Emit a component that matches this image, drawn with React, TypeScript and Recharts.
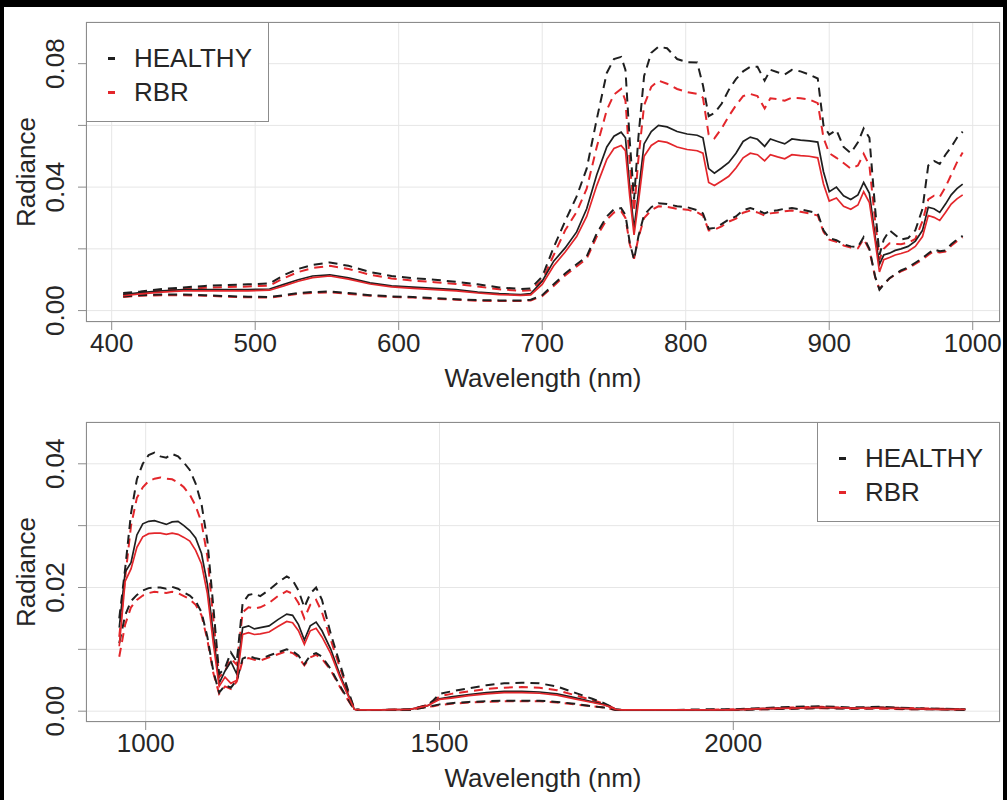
import { LineChart, Line, XAxis, YAxis, CartesianGrid, Legend } from "recharts";

const FONT = '"Liberation Sans", Arial, sans-serif';
const TEXT = "#262626";
const BLACK = "#1f1f1f";
const RED = "#e3262b";
const FRAME = "#8c8c8c";

// layout of one panel
const W = 1007;
const H = 400;
const PLOT_L = 86;
const PLOT_T = 22;
const PLOT_W = 914;
const PLOT_H = 300;
const Y_AXIS_W = 60;
const X_AXIS_H = 30;

// ---- top panel (VNIR) ----
const WL_TOP = [408, 420, 435, 450, 465, 480, 495, 510,
  520, 530, 540, 552, 565, 580, 595, 610,
  625, 640, 655, 670, 685, 692, 700, 708,
  716, 724, 731, 738, 745, 750, 755, 758,
  761, 764, 767, 771, 776, 781, 787, 794,
  801, 808, 812, 816, 820, 825, 830, 835,
  840, 845, 850, 855, 859, 864, 869, 874,
  880, 886, 892, 896, 900, 905, 910, 915,
  920, 924, 928, 932, 935, 938, 942, 946,
  950, 955, 960, 965, 969, 973, 977, 981,
  985, 989, 993];

const HEALTHY_MEAN_TOP = [0.0052, 0.0058, 0.0064, 0.0068, 0.0068, 0.0068, 0.0068, 0.0070,
  0.0085, 0.0100, 0.0112, 0.0116, 0.0106, 0.0090, 0.0080, 0.0076,
  0.0072, 0.0068, 0.0060, 0.0055, 0.0052, 0.0055, 0.0095, 0.0160,
  0.0203, 0.0255, 0.0330, 0.0440, 0.0530, 0.0565, 0.0578, 0.0560,
  0.0400, 0.0265, 0.0380, 0.0540, 0.0580, 0.0600, 0.0595, 0.0580,
  0.0572, 0.0568, 0.0560, 0.0460, 0.0445, 0.0462, 0.0480, 0.0510,
  0.0548, 0.0562, 0.0555, 0.0532, 0.0556, 0.0548, 0.0540, 0.0556,
  0.0552, 0.0550, 0.0546, 0.0450, 0.0385, 0.0400, 0.0372, 0.0360,
  0.0375, 0.0415, 0.0380, 0.0240, 0.0150, 0.0180, 0.0186, 0.0195,
  0.0200, 0.0208, 0.0225, 0.0260, 0.0335, 0.0330, 0.0318, 0.0345,
  0.0375, 0.0395, 0.0410];

const HEALTHY_UP_TOP = [0.0057, 0.0062, 0.0070, 0.0075, 0.0080, 0.0083, 0.0085, 0.0088,
  0.0115, 0.0135, 0.0148, 0.0156, 0.0145, 0.0125, 0.0112, 0.0105,
  0.0100, 0.0093, 0.0085, 0.0075, 0.0070, 0.0072, 0.0110, 0.0205,
  0.0290, 0.0370, 0.0460, 0.0620, 0.0770, 0.0815, 0.0822, 0.0780,
  0.0550, 0.0360, 0.0560, 0.0760, 0.0835, 0.0855, 0.0850, 0.0815,
  0.0805, 0.0804, 0.0730, 0.0630, 0.0640, 0.0670, 0.0715, 0.0750,
  0.0775, 0.0790, 0.0790, 0.0745, 0.0780, 0.0772, 0.0765, 0.0780,
  0.0775, 0.0765, 0.0752, 0.0600, 0.0570, 0.0585, 0.0530, 0.0510,
  0.0545, 0.0590, 0.0560, 0.0330, 0.0180, 0.0230, 0.0260, 0.0245,
  0.0230, 0.0235, 0.0260, 0.0330, 0.0470, 0.0485, 0.0475, 0.0505,
  0.0530, 0.0560, 0.0580];

const HEALTHY_LO_TOP = [0.0046, 0.0050, 0.0052, 0.0052, 0.0050, 0.0047, 0.0045, 0.0044,
  0.0050, 0.0057, 0.0060, 0.0062, 0.0057, 0.0050, 0.0046, 0.0044,
  0.0040, 0.0037, 0.0034, 0.0033, 0.0033, 0.0035, 0.0050, 0.0085,
  0.0120, 0.0150, 0.0175, 0.0250, 0.0305, 0.0328, 0.0332, 0.0310,
  0.0220, 0.0165, 0.0240, 0.0310, 0.0335, 0.0348, 0.0345, 0.0338,
  0.0335, 0.0325, 0.0315, 0.0265, 0.0268, 0.0280, 0.0295, 0.0305,
  0.0325, 0.0332, 0.0325, 0.0315, 0.0322, 0.0325, 0.0330, 0.0332,
  0.0328, 0.0322, 0.0315, 0.0260, 0.0235, 0.0228, 0.0215, 0.0208,
  0.0206, 0.0238, 0.0200, 0.0110, 0.0068, 0.0085, 0.0105, 0.0118,
  0.0130, 0.0140, 0.0155, 0.0170, 0.0185, 0.0198, 0.0192, 0.0195,
  0.0215, 0.0230, 0.0242];

const RBR_MEAN_TOP = [0.0048, 0.0054, 0.0060, 0.0064, 0.0064, 0.0064, 0.0064, 0.0066,
  0.0080, 0.0095, 0.0107, 0.0112, 0.0102, 0.0086, 0.0077, 0.0072,
  0.0068, 0.0064, 0.0057, 0.0052, 0.0049, 0.0051, 0.0085, 0.0145,
  0.0190, 0.0240, 0.0305, 0.0405, 0.0490, 0.0525, 0.0535, 0.0518,
  0.0370, 0.0245, 0.0350, 0.0500, 0.0535, 0.0550, 0.0545, 0.0530,
  0.0522, 0.0518, 0.0510, 0.0415, 0.0405, 0.0420, 0.0435, 0.0462,
  0.0495, 0.0510, 0.0505, 0.0485, 0.0505, 0.0498, 0.0492, 0.0505,
  0.0502, 0.0500, 0.0495, 0.0410, 0.0355, 0.0365, 0.0338, 0.0328,
  0.0342, 0.0385, 0.0350, 0.0225, 0.0125, 0.0165, 0.0172, 0.0180,
  0.0185, 0.0192, 0.0208, 0.0240, 0.0308, 0.0302, 0.0292, 0.0318,
  0.0345, 0.0362, 0.0375];

const RBR_UP_TOP = [0.0052, 0.0058, 0.0066, 0.0070, 0.0074, 0.0076, 0.0078, 0.0081,
  0.0105, 0.0125, 0.0138, 0.0145, 0.0135, 0.0116, 0.0104, 0.0097,
  0.0092, 0.0086, 0.0078, 0.0069, 0.0064, 0.0066, 0.0098, 0.0180,
  0.0260, 0.0320, 0.0395, 0.0530, 0.0650, 0.0700, 0.0718, 0.0680,
  0.0480, 0.0320, 0.0490, 0.0665, 0.0725, 0.0745, 0.0735, 0.0718,
  0.0708, 0.0702, 0.0690, 0.0570, 0.0558, 0.0590, 0.0630, 0.0665,
  0.0695, 0.0702, 0.0695, 0.0655, 0.0688, 0.0685, 0.0680, 0.0690,
  0.0688, 0.0684, 0.0672, 0.0560, 0.0510, 0.0495, 0.0478, 0.0460,
  0.0470, 0.0508, 0.0470, 0.0290, 0.0165, 0.0200, 0.0218, 0.0216,
  0.0215, 0.0220, 0.0232, 0.0290, 0.0360, 0.0372, 0.0368, 0.0400,
  0.0440, 0.0480, 0.0512];

const RBR_LO_TOP = [0.0044, 0.0048, 0.0050, 0.0050, 0.0048, 0.0045, 0.0043, 0.0042,
  0.0048, 0.0054, 0.0057, 0.0059, 0.0054, 0.0048, 0.0044, 0.0042,
  0.0038, 0.0035, 0.0032, 0.0031, 0.0031, 0.0033, 0.0047, 0.0080,
  0.0114, 0.0143, 0.0168, 0.0240, 0.0295, 0.0318, 0.0322, 0.0300,
  0.0215, 0.0168, 0.0235, 0.0300, 0.0325, 0.0338, 0.0336, 0.0330,
  0.0327, 0.0318, 0.0308, 0.0260, 0.0262, 0.0273, 0.0288, 0.0298,
  0.0317, 0.0324, 0.0318, 0.0308, 0.0315, 0.0318, 0.0322, 0.0324,
  0.0320, 0.0315, 0.0308, 0.0255, 0.0230, 0.0223, 0.0211, 0.0204,
  0.0202, 0.0232, 0.0196, 0.0108, 0.0070, 0.0086, 0.0104, 0.0116,
  0.0127, 0.0137, 0.0151, 0.0166, 0.0180, 0.0193, 0.0188, 0.0191,
  0.0210, 0.0225, 0.0237];

// ---- bottom panel (SWIR) ----
const WL_BOT = [955, 965, 975, 985, 995, 1005, 1015, 1025,
  1035, 1045, 1055, 1065, 1075, 1085, 1095, 1105,
  1115, 1125, 1135, 1145, 1155, 1165, 1175, 1185,
  1195, 1210, 1225, 1240, 1250, 1260, 1270, 1280,
  1290, 1300, 1315, 1330, 1345, 1355, 1365, 1400,
  1450, 1480, 1490, 1500, 1520, 1550, 1580, 1610,
  1640, 1670, 1700, 1730, 1760, 1780, 1790, 1800,
  1810, 1850, 1900, 1950, 2000, 2050, 2100, 2150,
  2200, 2250, 2300, 2350, 2395];

const HEALTHY_UP_BOT = [0.0150, 0.0230, 0.0320, 0.0375, 0.0400, 0.0414, 0.0418, 0.0412,
  0.0410, 0.0416, 0.0412, 0.0402, 0.0390, 0.0368, 0.0335, 0.0275,
  0.0170, 0.0060, 0.0070, 0.0095, 0.0080, 0.0175, 0.0188, 0.0190,
  0.0186, 0.0196, 0.0208, 0.0218, 0.0212, 0.0195, 0.0168, 0.0190,
  0.0200, 0.0180, 0.0125, 0.0078, 0.0032, 0.0004, 0.0002, 0.0002,
  0.0003, 0.0010, 0.0018, 0.0028, 0.0032, 0.0037, 0.0042, 0.0045,
  0.0046, 0.0045, 0.0040, 0.0030, 0.0020, 0.0013, 0.0008, 0.0003,
  0.0002, 0.0002, 0.0002, 0.0003, 0.0003, 0.0005, 0.0007, 0.0008,
  0.0006, 0.0007, 0.0005, 0.0004, 0.0003];

const HEALTHY_MEAN_BOT = [0.0135, 0.0225, 0.0240, 0.0285, 0.0303, 0.0307, 0.0308, 0.0305,
  0.0302, 0.0306, 0.0307, 0.0300, 0.0292, 0.0280, 0.0255, 0.0205,
  0.0125, 0.0045, 0.0065, 0.0080, 0.0060, 0.0135, 0.0138, 0.0133,
  0.0135, 0.0138, 0.0148, 0.0157, 0.0155, 0.0140, 0.0115, 0.0138,
  0.0144, 0.0130, 0.0100, 0.0060, 0.0026, 0.0003, 0.0002, 0.0002,
  0.0003, 0.0009, 0.0015, 0.0020, 0.0023, 0.0027, 0.0030, 0.0032,
  0.0032, 0.0031, 0.0028, 0.0022, 0.0015, 0.0011, 0.0007, 0.0003,
  0.0002, 0.0002, 0.0002, 0.0002, 0.0002, 0.0004, 0.0005, 0.0006,
  0.0005, 0.0006, 0.0004, 0.0003, 0.0003];

const HEALTHY_LO_BOT = [0.0110, 0.0155, 0.0178, 0.0188, 0.0195, 0.0199, 0.0200, 0.0200,
  0.0198, 0.0201, 0.0198, 0.0192, 0.0187, 0.0178, 0.0160, 0.0120,
  0.0065, 0.0030, 0.0042, 0.0038, 0.0050, 0.0085, 0.0089, 0.0086,
  0.0084, 0.0090, 0.0095, 0.0100, 0.0097, 0.0090, 0.0076, 0.0090,
  0.0094, 0.0088, 0.0068, 0.0042, 0.0018, 0.0002, 0.0002, 0.0002,
  0.0002, 0.0007, 0.0009, 0.0011, 0.0013, 0.0015, 0.0016, 0.0017,
  0.0017, 0.0017, 0.0015, 0.0012, 0.0008, 0.0006, 0.0004, 0.0002,
  0.0002, 0.0002, 0.0002, 0.0002, 0.0002, 0.0003, 0.0004, 0.0005,
  0.0004, 0.0005, 0.0003, 0.0003, 0.0002];

const RBR_UP_BOT = [0.0120, 0.0215, 0.0300, 0.0345, 0.0362, 0.0372, 0.0376, 0.0378,
  0.0376, 0.0375, 0.0370, 0.0362, 0.0350, 0.0332, 0.0305, 0.0250,
  0.0150, 0.0055, 0.0065, 0.0085, 0.0075, 0.0160, 0.0168, 0.0166,
  0.0168, 0.0175, 0.0186, 0.0194, 0.0190, 0.0175, 0.0150, 0.0172,
  0.0180, 0.0160, 0.0115, 0.0072, 0.0030, 0.0004, 0.0002, 0.0002,
  0.0003, 0.0010, 0.0016, 0.0024, 0.0028, 0.0032, 0.0036, 0.0038,
  0.0039, 0.0038, 0.0034, 0.0026, 0.0018, 0.0012, 0.0008, 0.0003,
  0.0002, 0.0002, 0.0002, 0.0002, 0.0003, 0.0004, 0.0006, 0.0007,
  0.0005, 0.0006, 0.0005, 0.0004, 0.0003];

const RBR_MEAN_BOT = [0.0105, 0.0210, 0.0230, 0.0265, 0.0282, 0.0287, 0.0288, 0.0288,
  0.0286, 0.0288, 0.0286, 0.0281, 0.0275, 0.0260, 0.0238, 0.0190,
  0.0110, 0.0040, 0.0055, 0.0045, 0.0050, 0.0124, 0.0127, 0.0124,
  0.0125, 0.0128, 0.0137, 0.0145, 0.0143, 0.0130, 0.0108, 0.0130,
  0.0134, 0.0120, 0.0093, 0.0056, 0.0024, 0.0003, 0.0002, 0.0002,
  0.0003, 0.0009, 0.0014, 0.0019, 0.0021, 0.0025, 0.0028, 0.0030,
  0.0030, 0.0029, 0.0026, 0.0020, 0.0014, 0.0010, 0.0007, 0.0003,
  0.0002, 0.0002, 0.0002, 0.0002, 0.0002, 0.0004, 0.0005, 0.0006,
  0.0005, 0.0005, 0.0004, 0.0003, 0.0003];

const RBR_LO_BOT = [0.0088, 0.0140, 0.0168, 0.0180, 0.0187, 0.0191, 0.0193, 0.0192,
  0.0191, 0.0193, 0.0191, 0.0186, 0.0181, 0.0172, 0.0155, 0.0115,
  0.0062, 0.0028, 0.0040, 0.0036, 0.0048, 0.0082, 0.0086, 0.0083,
  0.0082, 0.0087, 0.0092, 0.0097, 0.0094, 0.0087, 0.0074, 0.0087,
  0.0091, 0.0085, 0.0066, 0.0040, 0.0017, 0.0002, 0.0002, 0.0002,
  0.0002, 0.0007, 0.0008, 0.0010, 0.0012, 0.0014, 0.0015, 0.0016,
  0.0016, 0.0016, 0.0014, 0.0011, 0.0008, 0.0006, 0.0004, 0.0002,
  0.0002, 0.0002, 0.0002, 0.0002, 0.0002, 0.0003, 0.0004, 0.0005,
  0.0004, 0.0004, 0.0003, 0.0003, 0.0002];

const X_TICKS_TOP = [400, 500, 600, 700, 800, 900, 1000];
const X_TICKS_BOT = [1000, 1500, 2000];
const Y_TICKS_TOP = [0, 0.02, 0.04, 0.06, 0.08];
const Y_LABELS_TOP = [0, 0.04, 0.08];
const Y_TICKS_BOT = [0, 0.01, 0.02, 0.03, 0.04];
const Y_LABELS_BOT = [0, 0.02, 0.04];

function YTick(props: any) {
  const { x, y, payload, labels } = props;
  const v = payload.value;
  if (!labels.some((l: number) => Math.abs(l - v) < 1e-9)) return <g />;
  const bx = x - 12;
  return (
    <text x={bx} y={y} transform={`rotate(-90 ${bx} ${y})`} textAnchor="middle"
      fill={TEXT} fontSize={26} fontFamily={FONT}>
      {v.toFixed(2)}
    </text>
  );
}

function LegendBox(props: any) {
  // only the two mean curves carry a legend entry
  const items = (props.payload || []).filter((p: any) => p.type !== "none");
  return (
    <div style={{ width: 183, height: 100, border: `1px solid ${FRAME}`, boxSizing: "border-box",
      background: "#fff", position: "relative", fontFamily: FONT, fontSize: 26, color: TEXT }}>
      {items.map((p: any, i: number) => (
        <div key={p.value} style={{ position: "absolute", left: 0, top: 18 + i * 34, height: 34,
          display: "flex", alignItems: "center", whiteSpace: "nowrap" }}>
          <span style={{ display: "inline-block", width: 7, height: 3, background: p.color, marginLeft: 21 }} />
          <span style={{ marginLeft: 19, lineHeight: "34px" }}>{p.value}</span>
        </div>
      ))}
    </div>
  );
}

type PanelProps = {
  wl: number[];
  hm: number[]; hu: number[]; hl: number[];
  rm: number[]; ru: number[]; rl: number[];
  xDomain: [number, number];
  xTicks: number[];
  yDomain: [number, number];
  yTicks: number[];
  yLabels: number[];
  legendLeft: number;
};

function Panel({ wl, hm, hu, hl, rm, ru, rl, xDomain, xTicks, yDomain, yTicks, yLabels, legendLeft }: PanelProps) {
  const rows = wl.map((w, i) => ({ wl: w, hm: hm[i], hu: hu[i], hl: hl[i], rm: rm[i], ru: ru[i], rl: rl[i] }));
  const cy = PLOT_T + PLOT_H / 2;
  return (
    <div style={{ position: "relative", width: W, height: H }}>
      <LineChart width={W} height={H} data={rows}
        margin={{ top: PLOT_T, left: PLOT_L - Y_AXIS_W, right: W - PLOT_L - PLOT_W, bottom: H - PLOT_T - PLOT_H - X_AXIS_H }}>
        <CartesianGrid stroke="#e6e6e6" />
        <XAxis dataKey="wl" type="number" domain={xDomain} ticks={xTicks} allowDataOverflow
          axisLine={false} tickLine={{ stroke: FRAME }} tickSize={8} tickMargin={4} height={X_AXIS_H}
          tick={{ fill: TEXT, fontSize: 26, fontFamily: FONT }}
          label={{
            content: () => (
              <text x={PLOT_L + PLOT_W / 2} y={PLOT_T + PLOT_H + 65} textAnchor="middle"
                fill={TEXT} fontSize={26} fontFamily={FONT}>Wavelength (nm)</text>
            ),
          }} />
        <YAxis type="number" domain={yDomain} ticks={yTicks} allowDataOverflow
          axisLine={false} tickLine={{ stroke: FRAME }} tickSize={8} tickMargin={2} width={Y_AXIS_W}
          tick={(p: any) => <YTick {...p} labels={yLabels} />}
          label={{
            content: () => (
              <text x={35} y={cy} transform={`rotate(-90 35 ${cy})`} textAnchor="middle"
                fill={TEXT} fontSize={26} fontFamily={FONT}>Radiance</text>
            ),
          }} />
        <Line dataKey="ru" stroke={RED} strokeWidth={2} strokeDasharray="9 6" dot={false} legendType="none" isAnimationActive={false} />
        <Line dataKey="rl" stroke={RED} strokeWidth={2} strokeDasharray="9 6" dot={false} legendType="none" isAnimationActive={false} />
        <Line dataKey="hu" stroke={BLACK} strokeWidth={2} strokeDasharray="9 6" dot={false} legendType="none" isAnimationActive={false} />
        <Line dataKey="hl" stroke={BLACK} strokeWidth={2} strokeDasharray="9 6" dot={false} legendType="none" isAnimationActive={false} />
        <Line dataKey="hm" name="HEALTHY" stroke={BLACK} strokeWidth={1.7} dot={false} isAnimationActive={false} />
        <Line dataKey="rm" name="RBR" stroke={RED} strokeWidth={1.7} dot={false} isAnimationActive={false} />
        <Legend layout="vertical" align="center" verticalAlign="middle" content={LegendBox}
          wrapperStyle={{ left: legendLeft, top: PLOT_T, width: 183, height: 100 }} />
      </LineChart>
      <div style={{ position: "absolute", left: PLOT_L, top: PLOT_T, width: PLOT_W, height: PLOT_H,
        border: `1px solid ${FRAME}`, boxSizing: "border-box", pointerEvents: "none" }} />
    </div>
  );
}

export default function App() {
  return (
    <div style={{ position: "absolute", left: 0, top: 0, width: 1007, height: 800, background: "#000", overflow: "hidden" }}>
      <div style={{ position: "absolute", left: 4, top: 7, right: 4, bottom: 0, background: "#fff" }} />
      <div style={{ position: "absolute", left: 0, top: 0 }}>
        <Panel wl={WL_TOP} hm={HEALTHY_MEAN_TOP} hu={HEALTHY_UP_TOP} hl={HEALTHY_LO_TOP}
          rm={RBR_MEAN_TOP} ru={RBR_UP_TOP} rl={RBR_LO_TOP}
          xDomain={[382.1, 1019]} xTicks={X_TICKS_TOP} yDomain={[-0.0037, 0.0935]}
          yTicks={Y_TICKS_TOP} yLabels={Y_LABELS_TOP} legendLeft={PLOT_L} />
      </div>
      <div style={{ position: "absolute", left: 0, top: 400 }}>
        <Panel wl={WL_BOT} hm={HEALTHY_MEAN_BOT} hu={HEALTHY_UP_BOT} hl={HEALTHY_LO_BOT}
          rm={RBR_MEAN_BOT} ru={RBR_UP_BOT} rl={RBR_LO_BOT}
          xDomain={[898.4, 2453.9]} xTicks={X_TICKS_BOT} yDomain={[-0.00175, 0.04676]}
          yTicks={Y_TICKS_BOT} yLabels={Y_LABELS_BOT} legendLeft={PLOT_L + PLOT_W - 183} />
      </div>
    </div>
  );
}
